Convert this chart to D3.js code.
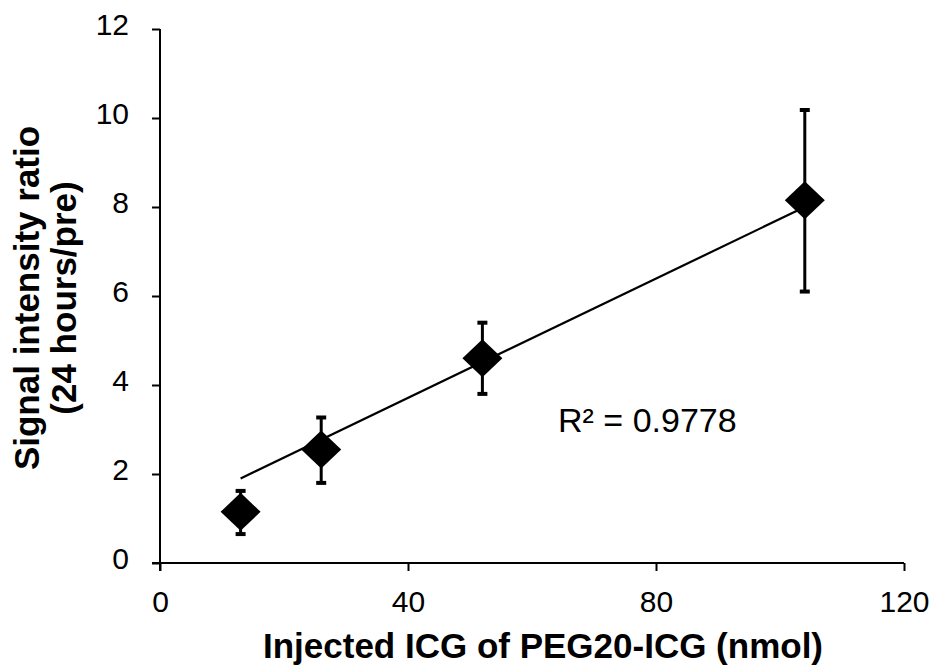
<!DOCTYPE html>
<html lang="en">
<head>
<meta charset="utf-8" />
<title>ICG dose vs signal ratio</title>
<style>
html,body{margin:0;background:#fff}
svg{display:block;font-family:"Liberation Sans",Arial,sans-serif}
</style>
<script src="https://cdn.jsdelivr.net/npm/d3@7/dist/d3.min.js"></script>
</head>
<body>
<div id="chart"></div>
<script>
/* ---------------- data ---------------- */
const doses    = [13, 26, 52, 104];          // nmol
const ratios   = [1.15, 2.55, 4.6, 8.15];    // mean signal ratio
const errLow   = [0.65, 1.8, 3.8, 6.1];
const errHigh  = [1.62, 3.27, 5.4, 10.18];
const trendX   = [13, 104];
const trendY   = [1.9, 8.0];
const xTicks   = [0, 40, 80, 120];
const yTicks   = [0, 2, 4, 6, 8, 10, 12];
const r2Label  = "R² = 0.9778";

/* ---------------- layout ---------------- */
const width = 938, height = 666;
const x = d3.scaleLinear().domain([0, 120]).range([160, 904]);
const y = d3.scaleLinear().domain([0, 12]).range([563, 29]);

const svg = d3.select("#chart").append("svg")
  .attr("width", width).attr("height", height);

const pts = doses.map((d, i) => ({x: d, y: ratios[i], lo: errLow[i], hi: errHigh[i]}));

/* axes */
const xAxis = svg.append("g")
  .attr("transform", `translate(0,${y(0)})`)
  .call(d3.axisBottom(x).tickValues(xTicks).tickSize(8).tickSizeOuter(0).tickPadding(20));
const yAxis = svg.append("g")
  .attr("transform", `translate(${x(0)},0)`)
  .call(d3.axisLeft(y).tickValues(yTicks).tickSize(8).tickSizeOuter(0).tickPadding(23));

[xAxis, yAxis].forEach(a => {
  a.attr("font-size", null).attr("font-family", null);
  a.select(".domain").attr("stroke", "#000").attr("stroke-width", 2);
  a.selectAll(".tick line").attr("stroke", "#000").attr("stroke-width", 2);
  a.selectAll(".tick text").attr("fill", "#000").attr("font-size", 30);
});
yAxis.selectAll(".tick text").attr("dy", "0.18em");
// axis lines run a little past the crossing, like the original
xAxis.select(".domain").attr("d", `M${x(0) - 8},0H${x(120)}`);
yAxis.select(".domain").attr("d", `M0,${y(12)}V${y(0) + 8}`);

/* trendline */
svg.append("line")
  .attr("x1", x(trendX[0])).attr("y1", y(trendY[0]))
  .attr("x2", x(trendX[1])).attr("y2", y(trendY[1]))
  .attr("stroke", "#000").attr("stroke-width", 2.2);

/* error bars */
const eb = svg.append("g").selectAll("g").data(pts).join("g");
eb.append("line")
  .attr("x1", d => x(d.x)).attr("x2", d => x(d.x))
  .attr("y1", d => y(d.hi)).attr("y2", d => y(d.lo))
  .attr("stroke", "#000").attr("stroke-width", 3);
["hi", "lo"].forEach(k => {
  eb.append("line")
    .attr("x1", d => x(d.x) - 5).attr("x2", d => x(d.x) + 5)
    .attr("y1", d => y(d[k])).attr("y2", d => y(d[k]))
    .attr("stroke", "#000").attr("stroke-width", 4);
});

/* diamond markers */
svg.append("g").selectAll("path").data(pts).join("path")
  .attr("transform", d => `translate(${x(d.x)},${y(d.y)})`)
  .attr("d", "M0,-19L20,0L0,19L-20,0Z")
  .attr("fill", "#000");

/* R² label */
svg.append("text")
  .attr("x", x(64.2)).attr("y", y(2.94))
  .attr("font-size", 34).attr("fill", "#000")
  .text(r2Label);

/* axis titles */
svg.append("text")
  .attr("x", 543).attr("y", 658)
  .attr("text-anchor", "middle")
  .attr("font-size", 35).attr("font-weight", "bold")
  .text("Injected ICG of PEG20-ICG (nmol)");

const yt = svg.append("text")
  .attr("transform", "translate(0,298) rotate(-90)")
  .attr("text-anchor", "middle")
  .attr("font-size", 35).attr("font-weight", "bold");
yt.append("tspan").attr("x", 0).attr("y", 39).text("Signal intensity ratio");
yt.append("tspan").attr("x", 0).attr("y", 76).text("(24 hours/pre)");
</script>
</body>
</html>
